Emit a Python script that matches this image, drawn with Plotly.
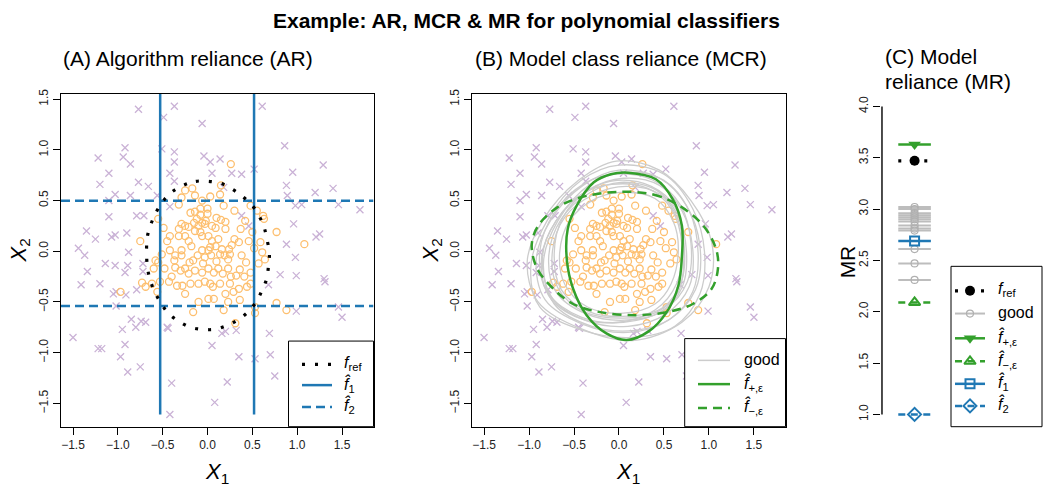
import plotly.graph_objects as go

W, H = 1050, 495
FONT = "Liberation Sans, Arial, Helvetica, sans-serif"
PURPLE = "#cab2d6"
ORANGE = "#fdbf6f"
BLUE = "#1f78b4"
GREEN = "#33a02c"
GREY = "#cccccc"

# ---------------- data ----------------
cross_x = [-0.77, -0.49, -0.37, -0.06, 0.61, -1.22, -0.92, -0.94, -0.86, -0.51, -0.37, -0.37, -0.04, 0.03, 0.14,
           0.05, 0.27, 0.38, 0.52, 0.86, 1.29, 0.95, 0.88, 0.89, 1.20, 1.40, 1.46, -1.10, -1.20, -1.03, -0.86,
           -0.66, -0.77, -0.56, -0.42, -0.37, -1.10, -0.42, -0.79, -0.71, -1.10, 0.38, 0.46, 0.98, 1.05, 1.21,
           1.25, 0.96, -1.07, -0.90, -1.35, -1.25, -1.03, -1.44, -1.37, -1.14, -1.03, -0.89, -0.92, -0.88, -0.72,
           -0.72, 0.88, 0.98, -1.34, -1.41, -1.20, -1.05, -1.02, -0.91, -0.79, 0.99, 0.81, 0.68, 1.30, 1.31, 0.99,
           1.46, 1.50, -1.50, -1.02, -0.85, -0.74, -0.80, -0.69, -0.95, -0.45, -0.44, 0.16, 0.20, 0.32, 0.69,
           -1.22, -1.18, -0.92, 0.05, -0.97, -0.89, -0.75, -0.40, 0.22, 0.35, 0.53, 0.70, 0.75, 0.08, -0.42, 1.70,
           0.18]
cross_y = [1.40, 1.32, 1.43, 1.26, 1.43, 0.92, 1.02, 0.93, 0.86, 1.01, 0.98, 0.88, 0.94, 0.88, 0.91,
           0.77, 0.77, 0.76, 0.81, 1.04, 0.85, 0.78, 0.65, 0.55, 0.58, 0.62, 0.46, 0.77, 0.66, 0.56, 0.55,
           0.64, 0.68, 0.55, 0.77, 0.69, 0.50, 0.44, 0.35, 0.35, 0.34, 0.35, 0.25, 0.45, 0.46, 0.14,
           0.17, 0.27, 0.14, 0.18, 0.20, 0.12, 0.16, 0.03, -0.04, -0.12, -0.14, -0.14, -0.21, -0.01, -0.12,
           -0.20, 0.07, -0.06, -0.20, -0.33, -0.32, -0.42, -0.40, -0.43, -0.38, -0.24, -0.23, -0.33, -0.27, -0.30, -0.59,
           -0.55, -0.65, -0.85, -0.54, -0.67, -0.69, -0.75, -0.70, -0.77, -0.75, -0.76, -0.81, -0.79, -0.78, -0.81,
           -0.96, -0.96, -0.92, -0.93, -1.04, -1.19, -1.14, -1.30, -1.29, -1.04, -1.06, -1.02, -1.23, -1.49, -1.61, 0.41,
           0.63]

circ_x = [0.26, 0.15, -0.17, -0.06, -0.29, -0.19, -0.08, 0.00, -0.08, 0.10, 0.20, 0.15, -0.15, -0.06, -0.03,
          -0.10, -0.21, -0.25, -0.25, -0.32, -0.14, -0.08, -0.06, 0.01, 0.09, 0.20, 0.37, 0.50, 0.77, 0.35,
          0.27, 0.24, 0.25, 0.46, 0.61, 0.52, 0.57, 0.43, 0.38, 0.23, 0.19, 0.14, 0.16, 0.09, 0.03, 0.01,
          0.04, -0.03, -0.06, -0.11, -0.16, -0.20, -0.29, -0.29, -0.36, -0.37, -0.42, -0.51, -0.55, -0.60,
          -0.48, -0.36, -0.30, -0.25, -0.21, -0.14, -0.06, 0.01, 0.07, 0.12, 0.17, 0.23, 0.32, 0.41, 0.48,
          0.64, -0.53, -0.56, -0.43, -0.34, -0.28, -0.25, -0.19, -0.10, -0.03, 0.03, 0.06, 0.14, 0.25, 0.29,
          0.20, 0.23, 0.35, 0.44, 0.48, -0.10, 0.01, 0.07, -0.16, 0.18, 0.36, 0.53, 0.53, 0.77, 0.88, 0.31,
          1.08, -0.97, -0.73, -0.69, 0.62, 0.63, 0.03,
          -0.02, 0.05, -0.12, 0.12, -0.18, 0.30, -0.05, 0.10, 0.36, -0.40, 0.18, 0.30, 0.42, -0.45, 0.05, 0.26,
          -0.25, -0.14, 0.14, -0.32, -0.14, 0.00, -0.29, -0.32, -0.55, -0.49, -0.75, -0.42, -0.21, 0.48, 0.55,
          0.59, -0.62, -0.58]
circ_y = [0.86, 0.65, 0.62, 0.50, 0.53, 0.38, 0.42, 0.42, 0.36, 0.33, 0.29, 0.31, 0.28, 0.28, 0.27,
          0.25, 0.24, 0.25, 0.15, 0.15, 0.20, 0.19, 0.15, 0.15, 0.23, 0.22, 0.22, 0.19, 0.19, 0.09,
          0.06, 0.02, -0.03, 0.10, -0.01, 0.03, -0.12, -0.11, -0.04, -0.08, -0.04, -0.03, 0.02, 0.05, 0.04, 0.01,
          -0.04, -0.06, 0.01, -0.04, -0.09, -0.11, -0.04, 0.01, -0.04, -0.09, 0.01, -0.03, -0.11, -0.17,
          -0.17, -0.16, -0.19, -0.17, -0.22, -0.19, -0.21, -0.17, -0.21, -0.17, -0.22, -0.17, -0.24, -0.25, -0.21,
          -0.08, -0.30, -0.40, -0.30, -0.34, -0.34, -0.42, -0.32, -0.32, -0.30, -0.32, -0.35, -0.32, -0.32, -0.40,
          -0.42, -0.50, -0.37, -0.35, -0.32, -0.50, -0.47, -0.47, -0.60, -0.58, -0.48, -0.55, -0.61, -0.51, -0.58, -0.71,
          0.07, -0.40, -0.31, -0.35, 0.35, 0.32, 0.54,
          0.30, 0.25, 0.32, 0.12, 0.05, 0.12, -0.12, -0.10, -0.18, -0.25, 0.45, 0.40, 0.30, 0.10, 0.10, -0.25,
          0.60, 0.55, 0.56, 0.46, 0.39, 0.37, 0.27, 0.22, 0.32, 0.23, 0.10, 0.15, 0.10, 0.45, 0.40,
          0.09, -0.32, -0.09]

# f_ref decision boundary
fref_x = [-0.27, -0.13, 0.01, 0.15, 0.28, 0.39, 0.50, 0.58, 0.63, 0.66, 0.69, 0.68, 0.66, 0.61, 0.55, 0.46,
          0.35, 0.22, 0.08, -0.06, -0.19, -0.32, -0.44, -0.52, -0.59, -0.64, -0.67, -0.68, -0.67, -0.63, -0.57,
          -0.49, -0.39]
fref_y = [0.65, 0.69, 0.69, 0.67, 0.61, 0.54, 0.45, 0.34, 0.24, 0.13, -0.02, -0.14, -0.27, -0.38, -0.49, -0.59,
          -0.67, -0.73, -0.77, -0.77, -0.75, -0.69, -0.61, -0.51, -0.40, -0.28, -0.16, 0.03, 0.15, 0.27, 0.39,
          0.50, 0.59]

# f1: two vertical boundaries; f2: two horizontal boundaries
f1_x = [-0.528, 0.519]
f1_yspan = [-1.61, 1.56]
f2_y = [0.497, -0.539]
f2_xspan = [-1.634, 1.851]

# MCR boundaries
fplus_x = [0.10, 0.41, 0.60, 0.70, 0.70, 0.66, 0.53, 0.33, 0.085, -0.14, -0.36, -0.51, -0.58, -0.57, -0.47, -0.28, -0.09]
fplus_y = [0.775, 0.71, 0.51, 0.25, -0.04, -0.34, -0.60, -0.79, -0.875, -0.81, -0.63, -0.37, -0.08, 0.22, 0.45, 0.68, 0.76]
fminus_x = [-0.03, 0.38, 0.67, 0.94, 1.08, 1.10, 1.03, 0.82, 0.53, 0.19, -0.21, -0.51, -0.73, -0.91, -0.97, -0.90, -0.69, -0.43]
fminus_y = [0.585, 0.56, 0.45, 0.25, 0.02, -0.17, -0.37, -0.52, -0.60, -0.63, -0.60, -0.52, -0.37, -0.17, 0.06, 0.25, 0.43, 0.53]

good_x = [
    [-0.03, 0.45, 0.80, 1.03, 1.00, 0.70, 0.15, -0.43, -0.90, -1.02, -0.85, -0.45],
    [0.01, 0.40, 0.60, 0.66, 0.58, 0.40, 0.05, -0.35, -0.60, -0.66, -0.55, -0.30],
    [0.00, 0.45, 0.75, 0.90, 0.85, 0.55, 0.10, -0.40, -0.82, -0.92, -0.75, -0.40],
    [0.05, 0.45, 0.70, 0.82, 0.78, 0.52, 0.10, -0.38, -0.75, -0.85, -0.70, -0.35],
    [-0.05, 0.38, 0.68, 0.80, 0.76, 0.50, 0.05, -0.42, -0.80, -0.88, -0.72, -0.40],
    [0.02, 0.42, 0.65, 0.75, 0.70, 0.46, 0.06, -0.36, -0.70, -0.78, -0.64, -0.32],
    [0.00, 0.50, 0.82, 0.95, 0.90, 0.62, 0.15, -0.40, -0.88, -0.98, -0.80, -0.42],
    [0.08, 0.46, 0.66, 0.72, 0.66, 0.42, 0.05, -0.38, -0.68, -0.74, -0.60, -0.28],
    [-0.02, 0.36, 0.62, 0.72, 0.70, 0.48, 0.10, -0.32, -0.64, -0.72, -0.62, -0.34],
    [0.10, 0.50, 0.78, 0.88, 0.82, 0.58, 0.18, -0.30, -0.72, -0.84, -0.68, -0.32],
    [-0.08, 0.32, 0.58, 0.70, 0.64, 0.40, 0.00, -0.44, -0.78, -0.86, -0.70, -0.42],
]
good_y = [
    [0.89, 0.80, 0.50, 0.09, -0.35, -0.70, -0.88, -0.76, -0.50, -0.10, 0.30, 0.70],
    [0.58, 0.52, 0.30, 0.02, -0.32, -0.52, -0.61, -0.55, -0.33, -0.02, 0.30, 0.50],
    [0.80, 0.72, 0.45, 0.05, -0.38, -0.68, -0.80, -0.72, -0.48, -0.08, 0.32, 0.65],
    [0.72, 0.65, 0.40, 0.02, -0.35, -0.62, -0.74, -0.68, -0.45, -0.05, 0.30, 0.60],
    [0.76, 0.70, 0.46, 0.08, -0.30, -0.58, -0.70, -0.65, -0.40, 0.00, 0.38, 0.66],
    [0.68, 0.60, 0.36, 0.00, -0.36, -0.60, -0.68, -0.62, -0.40, -0.04, 0.32, 0.58],
    [0.85, 0.76, 0.42, 0.00, -0.42, -0.74, -0.85, -0.78, -0.55, -0.15, 0.30, 0.70],
    [0.64, 0.56, 0.30, -0.05, -0.40, -0.60, -0.66, -0.60, -0.36, 0.00, 0.34, 0.56],
    [0.70, 0.64, 0.44, 0.10, -0.28, -0.56, -0.64, -0.60, -0.38, -0.02, 0.34, 0.60],
    [0.78, 0.70, 0.40, -0.02, -0.40, -0.66, -0.78, -0.74, -0.52, -0.12, 0.30, 0.66],
    [0.66, 0.62, 0.42, 0.06, -0.32, -0.58, -0.70, -0.66, -0.44, -0.06, 0.30, 0.56],
]

# Model reliance values
mr_good = [3.02, 3.00, 2.96, 2.94, 2.92, 2.90, 2.88, 2.84, 2.81, 2.79, 2.61, 2.47, 2.31]
mr_fref = 3.47
mr_fplus = 3.63
mr_fminus = 2.09
mr_f1 = 2.69
mr_f2 = 1.00

XTICKS = [-1.5, -1.0, -0.5, 0.0, 0.5, 1.0, 1.5]
MRTICKS = [1.0, 1.5, 2.0, 2.5, 3.0, 3.5, 4.0]
XRANGE = [-1.634, 1.851]
YRANGE = [-1.73, 1.55]
MRRANGE = [0.88, 4.12]
MR_XRANGE = [-1.03, 4.0]
MR_AXIS_X = -1.0


def closed(xs, ys):
    return list(xs) + [xs[0]], list(ys) + [ys[0]]


def px(v):
    return v / W


def py(v):
    return 1 - v / H


fig = go.Figure()

# ---------------- panels A and B: data points ----------------
for sfx in ["", "2"]:
    fig.add_trace(go.Scatter(x=cross_x, y=cross_y, mode="markers", xaxis="x" + sfx, yaxis="y" + sfx,
                             marker=dict(symbol="x-thin", size=7, line=dict(color=PURPLE, width=1.3))))
    fig.add_trace(go.Scatter(x=circ_x, y=circ_y, mode="markers", xaxis="x" + sfx, yaxis="y" + sfx,
                             marker=dict(symbol="circle-open", size=7, color=ORANGE, line=dict(width=1.3))))

# Panel A lines
for v in f1_x:
    fig.add_trace(go.Scatter(x=[v, v], y=f1_yspan, mode="lines", xaxis="x", yaxis="y",
                             line=dict(color=BLUE, width=2.5)))
for v in f2_y:
    fig.add_trace(go.Scatter(x=f2_xspan, y=[v, v], mode="lines", xaxis="x", yaxis="y",
                             line=dict(color=BLUE, width=2.5, dash="9px,5px")))
cx, cy = closed(fref_x, fref_y)
fig.add_trace(go.Scatter(x=cx, y=cy, mode="lines", xaxis="x", yaxis="y", line_shape="spline",
                         line=dict(color="black", width=3.2, dash="3px,10px")))

# Panel B lines
for gx, gy in zip(good_x, good_y):
    cx, cy = closed(gx, gy)
    fig.add_trace(go.Scatter(x=cx, y=cy, mode="lines", xaxis="x2", yaxis="y2", line_shape="spline",
                             line=dict(color=GREY, width=1.3)))
cx, cy = closed(fminus_x, fminus_y)
fig.add_trace(go.Scatter(x=cx, y=cy, mode="lines", xaxis="x2", yaxis="y2", line_shape="spline",
                         line=dict(color=GREEN, width=2.5, dash="9px,6px")))
cx, cy = closed(fplus_x, fplus_y)
fig.add_trace(go.Scatter(x=cx, y=cy, mode="lines", xaxis="x2", yaxis="y2", line_shape="spline",
                         line=dict(color=GREEN, width=2.5)))

# ---------------- panel C ----------------
# y axis line spanning only the tick range (as in base R)
fig.add_trace(go.Scatter(x=[MR_AXIS_X, MR_AXIS_X], y=[MRTICKS[0], MRTICKS[-1]], mode="lines",
                         xaxis="x3", yaxis="y3", line=dict(color="black", width=1.4)))

SEG = [-0.5, 0.5]


def mr_item(val, lcolor, ldash, lwidth, symbol, msize, mcolor, mline=None):
    fig.add_trace(go.Scatter(x=SEG, y=[val, val], mode="lines", xaxis="x3", yaxis="y3",
                             line=dict(color=lcolor, width=lwidth, dash=ldash)))
    mk = dict(symbol=symbol, size=msize, color=mcolor)
    if mline:
        mk["line"] = mline
    fig.add_trace(go.Scatter(x=[0], y=[val], mode="markers", xaxis="x3", yaxis="y3", marker=mk))


for v in mr_good:
    mr_item(v, "#bdbdbd", "solid", 2, "circle-open", 7, "#b0b0b0", dict(width=1.2))
mr_item(mr_fref, "black", "3px,10px", 3.2, "circle", 10, "black")
mr_item(mr_fplus, GREEN, "solid", 2.5, "triangle-down", 11, GREEN)
mr_item(mr_fminus, GREEN, "7px,5.5px", 2.5, "triangle-up-open", 10, GREEN, dict(width=2))
mr_item(mr_f1, BLUE, "solid", 2.5, "square-open", 9, BLUE, dict(width=2))
mr_item(mr_f2, BLUE, "7px,5.5px", 2.5, "diamond-open", 10, BLUE, dict(width=2))

# ---------------- legends (overlay in pixel coordinates) ----------------
def box(x0, x1, y0, y1):
    fig.add_trace(go.Scatter(x=[x0, x1, x1, x0, x0], y=[y0, y0, y1, y1, y0], mode="lines", fill="toself",
                             fillcolor="white", xaxis="x4", yaxis="y4", line=dict(color="black", width=1)))


def lline(x0, x1, y, color, dash, width):
    fig.add_trace(go.Scatter(x=[x0, x1], y=[y, y], mode="lines", xaxis="x4", yaxis="y4",
                             line=dict(color=color, width=width, dash=dash)))


def lmark(x, y, symbol, size, color, mline=None):
    mk = dict(symbol=symbol, size=size, color=color)
    if mline:
        mk["line"] = mline
    fig.add_trace(go.Scatter(x=[x], y=[y], mode="markers", xaxis="x4", yaxis="y4", marker=mk))


annotations = []


def text(x, y, s, size=15, xanchor="left", angle=0, yanchor="middle"):
    annotations.append(dict(x=x, y=y, xref="x4", yref="y4", text=s, showarrow=False, xanchor=xanchor,
                            yanchor=yanchor, textangle=angle, font=dict(family=FONT, size=size, color="black")))


FHAT = "<i>f\u0302</i>"

# Legend A
box(288.5, 373.5, 339.5, 426)
lline(302, 332, 363, "black", "3px,10px", 3.2)
lline(302, 332, 384, BLUE, "solid", 2.5)
lline(302, 332, 406, BLUE, "9px,5px", 2.5)
text(342, 362, "<i>f</i><sub>ref</sub>", size=16)
text(342, 383, FHAT + "<sub>1</sub>", size=16)
text(342, 405, FHAT + "<sub>2</sub>", size=16)

# Legend B
box(684.7, 785.5, 337, 426)
lline(698, 730, 359, GREY, "solid", 1.5)
lline(698, 730, 383, GREEN, "solid", 2.5)
lline(698, 730, 407, GREEN, "9px,6px", 2.5)
text(742, 358, "good", size=16)
text(742, 382, FHAT + "<sub>+,\u03b5</sub>", size=16)
text(742, 406, FHAT + "<sub>\u2212,\u03b5</sub>", size=16)

# Legend C
box(951, 1042, 264, 426)
rows = [288.7, 311.7, 336.7, 360, 382.7, 405]
lline(955, 985, rows[0], "black", "3px,10px", 3.2)
lmark(970, rows[0], "circle", 10, "black")
lline(955, 985, rows[1], "#bdbdbd", "solid", 2)
lmark(970, rows[1], "circle-open", 7, "#b0b0b0", dict(width=1.2))
lline(955, 985, rows[2], GREEN, "solid", 2.5)
lmark(970, rows[2], "triangle-down", 11, GREEN)
lline(955, 985, rows[3], GREEN, "7px,5.5px", 2.5)
lmark(970, rows[3], "triangle-up-open", 10, GREEN, dict(width=2))
lline(955, 985, rows[4], BLUE, "solid", 2.5)
lmark(970, rows[4], "square-open", 9, BLUE, dict(width=2))
lline(955, 985, rows[5], BLUE, "7px,5.5px", 2.5)
lmark(970, rows[5], "diamond-open", 10, BLUE, dict(width=2))
text(996, rows[0] - 1, "<i>f</i><sub>ref</sub>", size=16)
text(996, rows[1] - 1, "good", size=16)
text(996, rows[2] - 1, FHAT + "<sub>+,\u03b5</sub>", size=16)
text(996, rows[3] - 1, FHAT + "<sub>\u2212,\u03b5</sub>", size=16)
text(996, rows[4] - 1, FHAT + "<sub>1</sub>", size=16)
text(996, rows[5] - 1, FHAT + "<sub>2</sub>", size=16)

# Titles and axis labels
text(526, 16, "<b>Example: AR, MCR &amp; MR for polynomial classifiers</b>", size=21, xanchor="center")
text(61, 54, "(A) Algorithm reliance (AR)", size=21)
text(473, 54, "(B) Model class reliance (MCR)", size=21)
text(883, 52, "(C) Model", size=21)
text(883, 77, "reliance (MR)", size=21)
text(217, 473, "<i>X</i><sub>1</sub>", size=22, xanchor="center")
text(628, 473, "<i>X</i><sub>1</sub>", size=22, xanchor="center")
text(20, 248, "<i>X</i><sub>2</sub>", size=22, xanchor="center", angle=-90)
text(432, 248, "<i>X</i><sub>2</sub>", size=22, xanchor="center", angle=-90)
text(847, 260, "MR", size=21, xanchor="center", angle=-90)

# ---------------- layout ----------------
axis_common = dict(showgrid=False, zeroline=False, ticks="outside", ticklen=7, tickwidth=1, tickcolor="black",
                   tickfont=dict(family=FONT, size=12, color="#222"), fixedrange=True)
ydom = [py(426), py(90)]

fig.update_layout(
    width=W, height=H, margin=dict(l=0, r=0, t=0, b=0), paper_bgcolor="white", plot_bgcolor="rgba(0,0,0,0)",
    showlegend=False, hovermode=False, font=dict(family=FONT),
    xaxis=dict(domain=[px(61), px(373.5)], range=XRANGE, anchor="y", tickvals=XTICKS, tickformat=".1f",
               showline=True, mirror=True, linecolor="black", linewidth=1, **axis_common),
    yaxis=dict(domain=ydom, range=YRANGE, anchor="x", tickvals=XTICKS, tickformat=".1f", tickangle=-90,
               showline=True, mirror=True, linecolor="black", linewidth=1, **axis_common),
    xaxis2=dict(domain=[px(472), px(785.5)], range=XRANGE, anchor="y2", tickvals=XTICKS, tickformat=".1f",
                showline=True, mirror=True, linecolor="black", linewidth=1, **axis_common),
    yaxis2=dict(domain=ydom, range=YRANGE, anchor="x2", tickvals=XTICKS, tickformat=".1f", tickangle=-90,
                showline=True, mirror=True, linecolor="black", linewidth=1, **axis_common),
    xaxis3=dict(domain=[px(881), px(1045)], range=MR_XRANGE, anchor="y3", visible=False, fixedrange=True),
    yaxis3=dict(domain=ydom, range=MRRANGE, anchor="x3", tickvals=MRTICKS, tickformat=".1f", tickangle=-90,
                showline=False, **axis_common),
    xaxis4=dict(domain=[0, 1], range=[0, W], anchor="y4", visible=False, fixedrange=True),
    yaxis4=dict(domain=[0, 1], range=[H, 0], anchor="x4", visible=False, fixedrange=True),
    annotations=annotations,
)

fig.write_html("out.html", config={"displayModeBar": False, "staticPlot": True},
               post_script="document.body.style.margin='0';document.body.style.padding='0';")
